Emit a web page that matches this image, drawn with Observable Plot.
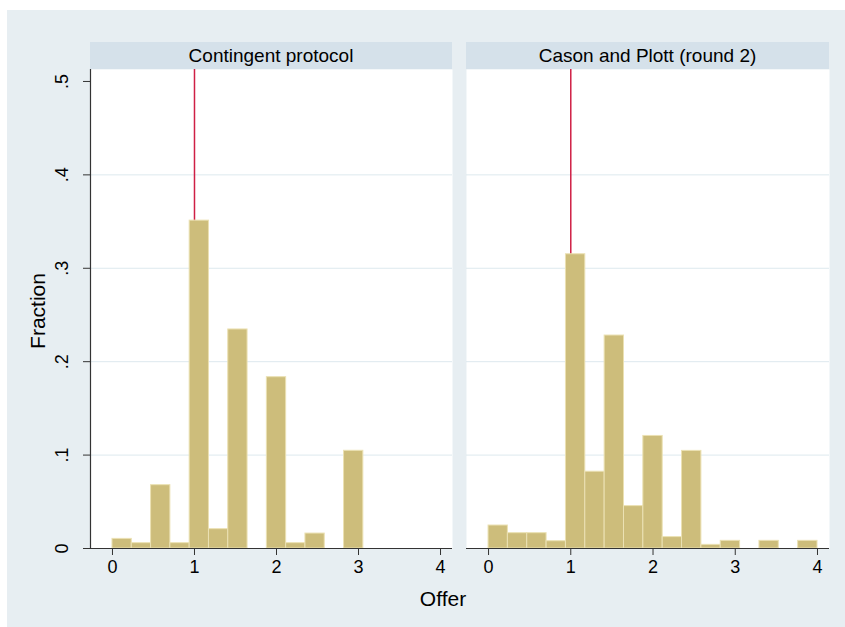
<!DOCTYPE html>
<html>
<head>
<meta charset="utf-8">
<script src="https://cdn.jsdelivr.net/npm/d3@7"></script>
<script src="https://cdn.jsdelivr.net/npm/@observablehq/plot@0.6"></script>
<style>
  html, body { margin: 0; padding: 0; background: #e7eef2; }
  body { width: 845px; height: 627px; position: relative; overflow: hidden; font-family: "Liberation Sans", Arial, Helvetica, sans-serif; }
  #wtop { position: absolute; left: 0; top: 0; width: 2000px; height: 10px; background: #ffffff; }
  #wleft { position: absolute; left: 0; top: 0; width: 7px; height: 2000px; background: #ffffff; }
  .strip { position: absolute; top: 42px; height: 27px; background: #d5e1ea; color: #000; font-size: 19px; line-height: 27px; text-align: center; }
  .abs { position: absolute; }
  #ylab { position: absolute; left: 38px; top: 311px; transform: translate(-50%, -50%) rotate(-90deg); font-size: 21px; color: #000; white-space: nowrap; }
  #xlab { position: absolute; left: 443px; top: 599px; transform: translate(-50%, -50%); font-size: 21px; color: #000; white-space: nowrap; }
</style>
</head>
<body>
<div id="wtop"></div>
<div id="wleft"></div>
<div class="strip" id="s1" style="left:90px;width:362px;"></div>
<div class="strip" id="s2" style="left:466px;width:363px;"></div>
<div class="abs" id="p1" style="left:40px;top:69px;"></div>
<div class="abs" id="p2" style="left:466px;top:69px;"></div>
<div id="ylab">Fraction</div>
<div id="xlab">Offer</div>
<script>
// Panel titles
const panels = ["Contingent protocol", "Cason and Plott (round 2)"];
// Histogram bin starts (Offer) and common bin width
const binStart = [0, 0.2353, 0.4706, 0.7059, 0.9412, 1.1765, 1.4118, 1.6471, 1.8824, 2.1176, 2.3529, 2.5882, 2.8235, 3.0588, 3.2941, 3.5294, 3.7647];
const binWidth = 0.2353;
// Fraction per bin
const contingent = [0.0103, 0.0057, 0.0678, 0.0057, 0.351, 0.0207, 0.2345, 0, 0.1834, 0.0057, 0.016, 0, 0.1046, 0, 0, 0, 0];
const cason = [0.0246, 0.0164, 0.0164, 0.0078, 0.315, 0.0822, 0.228, 0.0454, 0.1205, 0.0122, 0.1045, 0.0039, 0.0082, 0, 0.0082, 0, 0.0082];
// Axis ticks
const xTicks = [0, 1, 2, 3, 4];
const xTickLabels = ["0", "1", "2", "3", "4"];
const yTicks = [0, 0.1, 0.2, 0.3, 0.4, 0.5];
const yTickLabels = ["0", ".1", ".2", ".3", ".4", ".5"];
const gridTicks = [0.1, 0.2, 0.3, 0.4];
// Reference line
const refLine = [1];

document.getElementById("s1").textContent = panels[0];
document.getElementById("s2").textContent = panels[1];

const xDomain = [-0.268, 4.146];
const yDomain = [0, 0.5128];
const barFill = "#cdbd7b";
const barStroke = "#ebe1b3";
const axisColor = "#333333";

function rows(vals) {
  return binStart.map((s, i) => ({x1: s, x2: s + binWidth, y: vals[i]})).filter(d => d.y > 0);
}

function panel(vals, withY) {
  const marks = [
    Plot.frame({fill: "white", stroke: null}),
    Plot.gridY(gridTicks, {stroke: "#dde9ee", strokeOpacity: 1, strokeWidth: 1}),
    Plot.ruleX(refLine, {stroke: "#cf1f45", strokeWidth: 1.5}),
    Plot.rectY(rows(vals), {x1: "x1", x2: "x2", y: "y", fill: barFill, stroke: barStroke, strokeWidth: 1, inset: 0}),
    Plot.ruleY([0], {stroke: axisColor, strokeWidth: 1.2}),
    Plot.axisX(xTicks, {tickFormat: (d) => xTickLabels[xTicks.indexOf(d)], tickSize: 7, tickPadding: 5, stroke: axisColor, fill: "#000", label: null})
  ];
  if (withY) {
    marks.push(Plot.ruleX([xDomain[0]], {stroke: axisColor, strokeWidth: 1.2}));
    marks.push(Plot.axisY(yTicks, {tickFormat: d => yTickLabels[yTicks.indexOf(d)], tickSize: 7, tickRotate: -90, tickPadding: 16, stroke: axisColor, fill: "#000", label: null}));
  }
  return Plot.plot({
    width: withY ? 412 : 363,
    height: 479 + 40,
    marginLeft: withY ? 50 : 0,
    marginRight: 0,
    marginTop: 0,
    marginBottom: 40,
    x: {domain: xDomain},
    y: {domain: yDomain, axis: withY ? undefined : null},
    style: {background: "transparent", fontFamily: '"Liberation Sans", Arial, Helvetica, sans-serif', fontSize: "18px", color: "#000", overflow: "visible"},
    marks
  });
}

document.getElementById("p1").appendChild(panel(contingent, true));
document.getElementById("p2").appendChild(panel(cason, false));
</script>
</body>
</html>
